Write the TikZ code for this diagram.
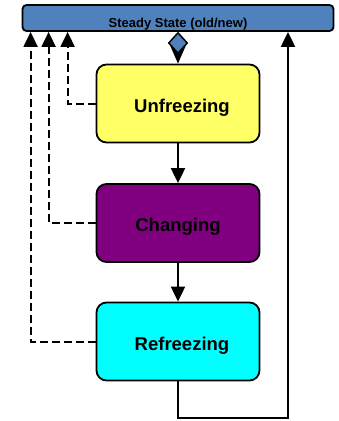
\documentclass[tikz,border=0pt]{standalone}
\usepackage{fontspec}
\setmainfont{Liberation Sans}
\usetikzlibrary{arrows.meta,shapes.geometric}
\definecolor{lewinblue}{RGB}{79,129,189}
\definecolor{lewinyellow}{RGB}{255,255,102}
\definecolor{lewinpurple}{RGB}{128,0,128}
\definecolor{lewincyan}{RGB}{0,255,255}

\tikzset{
    stage/.style={draw, rounded corners=10bp, line width=1.8bp,
        minimum width=163bp, minimum height=78bp,
        font=\fontsize{18.5bp}{22bp}\selectfont\bfseries,
        text height=17bp, text depth=0pt},
    flow/.style={line width=2bp, -{Triangle[width=14bp,length=15bp]}},
    back/.style={flow, dash pattern=on 8bp off 4bp}
}

\begin{document}
\begin{tikzpicture}[x=1bp,y=-1bp]
    \useasboundingbox (0,0) rectangle (339,421);

    % steady state bar
    \node[draw, fill=lewinblue, rounded corners=4bp, line width=1.8bp,
          minimum width=311bp, inner ysep=0pt,
          text height=22bp, text depth=4bp,
          font=\fontsize{13bp}{15bp}\selectfont\bfseries] (steady) at (178,18) {Steady State (old/new)};

    % stages
    \node[stage, fill=lewinyellow] (unfreeze) at (178,103.5) {\hspace*{8bp}Unfreezing};
    \node[stage, fill=lewinpurple] (change) at (178,223) {Changing};
    \node[stage, fill=lewincyan] (refreeze) at (178,341.5) {\hspace*{8bp}Refreezing};

    % forward flow
    \coordinate (aggc) at (178,43);
    \draw[line width=2bp, -{Triangle[width=16bp,length=19bp]}] (aggc) -- (unfreeze.north);
    \node[diamond, draw, fill=lewinblue, line width=1.5bp, inner sep=0pt,
          minimum width=19bp, minimum height=21bp] (agg) at (aggc) {};
    \draw[flow] (unfreeze) -- (change);
    \draw[flow] (change) -- (refreeze);

    % back to steady state
    \coordinate (loopcorner) at (288,418);
    \draw[flow] (refreeze.south) |- (loopcorner) -- (loopcorner |- steady.south);
    \draw[back] (unfreeze.west) -| ([xshift=46bp]steady.south west);
    \draw[back] (change.west) -| ([xshift=27bp]steady.south west);
    \draw[back] (refreeze.west) -| ([xshift=9bp]steady.south west);
\end{tikzpicture}
\end{document}
